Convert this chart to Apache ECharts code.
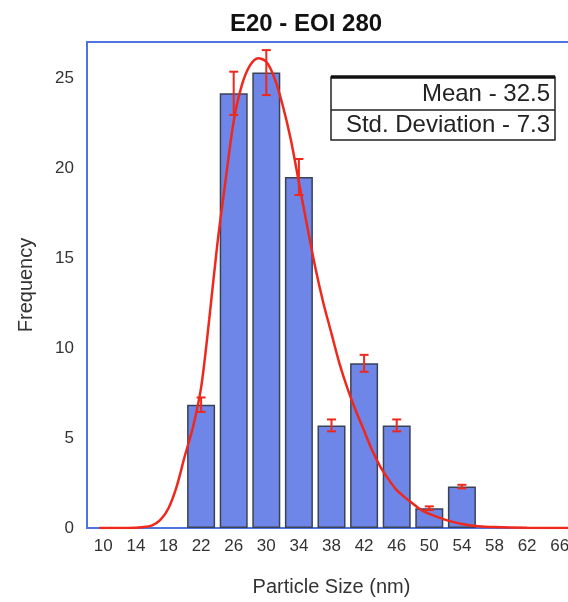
<!DOCTYPE html>
<html>
<head>
<meta charset="utf-8">
<script src="https://cdn.jsdelivr.net/npm/echarts@6/dist/echarts.min.js"></script>
<style>
  html, body { margin: 0; padding: 0; overflow: hidden; background: #fff; }
  #chart { width: 600px; height: 602px; }
</style>
</head>
<body>
<div id="chart"></div>
<script>
// histogram bins (centre, frequency) and error
var binCenters = [22, 26, 30, 34, 38, 42, 46, 50, 54];
var binFreq = [6.85, 24.15, 25.3, 19.5, 5.7, 9.15, 5.7, 1.1, 2.3];
var binErr = [0.4, 1.2, 1.25, 1.0, 0.33, 0.47, 0.33, 0.1, 0.1];

// fitted curve
var fitX = [9.5, 13, 15, 16, 17, 18, 19, 20, 21, 22, 23, 24, 25, 26, 27, 28, 29, 30, 31, 32, 33, 34, 35, 36, 37, 38, 39, 40, 41, 42, 43, 44, 45, 46, 47, 48, 49, 50, 52, 54, 56, 58, 62, 67];
var fitY = [0, 0, 0.05, 0.15, 0.45, 1.1, 2.3, 4.0, 5.6, 7.8, 11.6, 15.8, 19.3, 22.6, 24.6, 25.7, 26.1, 25.9, 25.0, 23.5, 21.6, 19.2, 16.8, 14.5, 12.5, 10.8, 9.1, 7.7, 6.5, 5.4, 4.3, 3.4, 2.7, 2.1, 1.7, 1.35, 1.0, 0.78, 0.45, 0.22, 0.1, 0.05, 0.01, 0];

var xTicks = [10, 14, 18, 22, 26, 30, 34, 38, 42, 46, 50, 54, 58, 62, 66];
var yTicks = [0, 5, 10, 15, 20, 25];

var statsLines = ['Mean - 32.5', 'Std. Deviation - 7.3'];

var FONT = 'Liberation Sans, Arial, sans-serif';
var RED = '#f0281c';

var chart = echarts.init(document.getElementById('chart'));

chart.setOption({
  animation: false,
  backgroundColor: '#fff',
  title: {
    text: 'E20 - EOI 280',
    left: 225,
    top: 7,
    textStyle: { fontSize: 24, fontWeight: 'bold', color: '#111', fontFamily: FONT }
  },
  grid: {
    left: 87,
    top: 42,
    width: 489,
    height: 487,
    show: true,
    borderColor: '#4f73e0',
    borderWidth: 2,
    backgroundColor: '#fff'
  },
  xAxis: {
    type: 'value',
    min: 8,
    max: 68,
    name: 'Particle Size (nm)',
    nameLocation: 'middle',
    nameGap: 49,
    nameTextStyle: { fontSize: 20, color: '#333', fontFamily: FONT },
    axisLine: { show: false },
    axisTick: { show: false },
    splitLine: { show: false },
    axisLabel: { customValues: xTicks, fontSize: 17, color: '#333', margin: 10, fontFamily: FONT }
  },
  yAxis: {
    type: 'value',
    min: 0,
    max: 27,
    name: 'Frequency',
    nameLocation: 'middle',
    nameGap: 51,
    nameTextStyle: { fontSize: 20, color: '#333', fontFamily: FONT },
    axisLine: { show: false },
    axisTick: { show: false },
    splitLine: { show: false },
    axisLabel: { customValues: yTicks, fontSize: 17, color: '#333', margin: 13, fontFamily: FONT }
  },
  graphic: [{
    type: 'group',
    z: 100,
    children: [
      { type: 'rect', shape: { x: 331, y: 77, width: 224, height: 63 },
        style: { fill: '#fff', stroke: '#222', lineWidth: 1.5 } },
      { type: 'line', shape: { x1: 331, y1: 77, x2: 555, y2: 77 },
        style: { stroke: '#111', lineWidth: 3.5 } },
      { type: 'line', shape: { x1: 331, y1: 110, x2: 555, y2: 110 },
        style: { stroke: '#222', lineWidth: 1.5 } },
      { type: 'text', x: 550, y: 94,
        style: { text: statsLines[0], align: 'right', verticalAlign: 'middle', font: '24px ' + FONT, fill: '#222' } },
      { type: 'text', x: 550, y: 125.5,
        style: { text: statsLines[1], align: 'right', verticalAlign: 'middle', font: '24px ' + FONT, fill: '#222' } }
    ]
  }],
  series: [
    {
      type: 'bar',
      barWidth: 28,
      data: binCenters.map(function (c, i) { return [c, binFreq[i]]; }),
      itemStyle: { color: '#6e86e8', borderColor: '#3a4256', borderWidth: 1.5 },
      z: 2
    },
    {
      type: 'line',
      data: fitX.map(function (x, i) { return [x, fitY[i]]; }),
      smooth: 0.3,
      showSymbol: false,
      lineStyle: { color: RED, width: 2.5 },
      z: 3
    },
    {
      type: 'custom',
      data: binCenters.map(function (c, i) { return [c, binFreq[i] - binErr[i], binFreq[i] + binErr[i]]; }),
      renderItem: function (params, api) {
        var lo = api.coord([api.value(0), api.value(1)]);
        var hi = api.coord([api.value(0), api.value(2)]);
        var w = 4.5;
        var st = { stroke: RED, lineWidth: 2 };
        return {
          type: 'group',
          children: [
            { type: 'line', shape: { x1: lo[0], y1: lo[1], x2: hi[0], y2: hi[1] }, style: st },
            { type: 'line', shape: { x1: lo[0] - w, y1: lo[1], x2: lo[0] + w, y2: lo[1] }, style: st },
            { type: 'line', shape: { x1: hi[0] - w, y1: hi[1], x2: hi[0] + w, y2: hi[1] }, style: st }
          ]
        };
      },
      z: 4
    }
  ]
});
</script>
</body>
</html>
